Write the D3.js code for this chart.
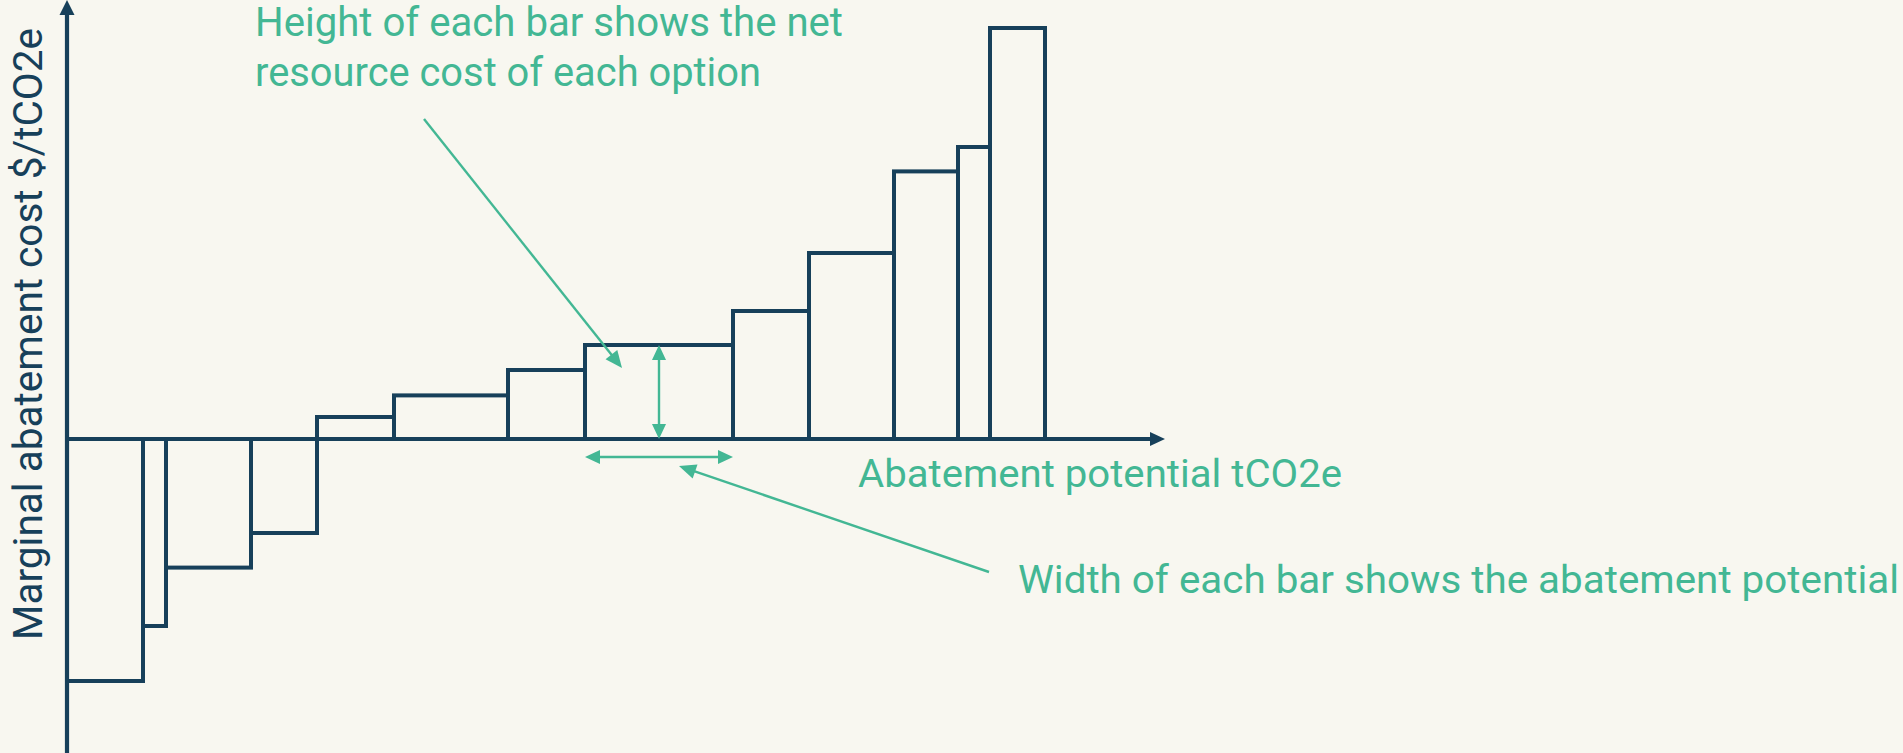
<!DOCTYPE html>
<html><head><meta charset="utf-8">
<script src="https://cdn.jsdelivr.net/npm/d3@7"></script>
<style>html,body{margin:0;padding:0;background:#f8f7f0;} svg{display:block}</style>
</head><body><svg id="chart" width="1903" height="753"></svg>
<script>
// ---- data ----
const options   = ["Option 1","Option 2","Option 3","Option 4","Option 5","Option 6","Option 7","Option 8","Option 9","Option 10","Option 11","Option 12","Option 13"];
const potential = [7.6, 2.3, 8.5, 6.6, 7.7, 11.4, 7.7, 14.8, 7.6, 8.5, 6.4, 3.2, 5.5];   // bar widths (tCO2e)
const cost      = [-121, -93.5, -64.3, -47, 11, 21.8, 34.5, 47, 64, 93, 133.8, 146, 205.5]; // bar heights ($/tCO2e)
const xLabel = "Abatement potential tCO2e";
const yLabel = "Marginal abatement cost $/tCO2e";
const noteHeight = ["Height of each bar shows the net", "resource cost of each option"];
const noteWidth  = "Width of each bar shows the abatement potential";
const highlighted = 7; // bar used for the explanatory arrows

// ---- layout ----
const W = 1903, H = 753;
const navy = "#17405a", green = "#43b794";
const svg = d3.select("#chart");
svg.append("rect").attr("width", W).attr("height", H).attr("fill", "#f8f7f0");

const starts = d3.cumsum([0, ...potential]).slice(0, potential.length);
const x = d3.scaleLinear().domain([0, 109.8]).range([67, 1165]);
const y = d3.scaleLinear().domain([-157, 219.5]).range([H, 0]);

const data = options.map((o, i) => ({name: o, x0: starts[i], x1: starts[i] + potential[i], c: cost[i]}));

function tri(g, tx, ty, fx, fy, len, hw, color) {
  const dx = tx - fx, dy = ty - fy, L = Math.hypot(dx, dy);
  const ux = dx / L, uy = dy / L, px = -uy, py = ux;
  const bx = tx - ux * len, by = ty - uy * len;
  g.append("path")
    .attr("d", `M${tx},${ty}L${bx + px * hw},${by + py * hw}L${bx - px * hw},${by - py * hw}Z`)
    .attr("fill", color);
}

// bars
svg.append("g").selectAll("rect").data(data).join("rect")
  .attr("x", d => x(d.x0))
  .attr("width", d => x(d.x1) - x(d.x0))
  .attr("y", d => y(Math.max(0, d.c)))
  .attr("height", d => Math.abs(y(d.c) - y(0)))
  .attr("fill", "none")
  .attr("stroke", navy)
  .attr("stroke-width", 4);

// axes
const ax = svg.append("g");
ax.append("line").attr("x1", x(0)).attr("x2", x.range()[1] - 10).attr("y1", y(0)).attr("y2", y(0))
  .attr("stroke", navy).attr("stroke-width", 4.2);
tri(ax, x.range()[1], y(0), x(0), y(0), 15, 7, navy);
ax.append("line").attr("x1", x(0)).attr("x2", x(0)).attr("y1", H).attr("y2", 10)
  .attr("stroke", navy).attr("stroke-width", 4.2);
tri(ax, x(0), 0, x(0), H, 15, 7.5, navy);

// axis labels
const font = "'Liberation Sans Narrow', Roboto, 'Liberation Sans', sans-serif";
svg.append("text").attr("transform", `translate(42,640) rotate(-90)`)
  .attr("font-family", font).attr("font-size", 40).attr("fill", navy)
  .attr("textLength", 612).attr("lengthAdjust", "spacingAndGlyphs").text(yLabel);
svg.append("text").attr("x", 858).attr("y", 487)
  .attr("font-family", font).attr("font-size", 39).attr("fill", green)
  .attr("textLength", 484).attr("lengthAdjust", "spacingAndGlyphs").text(xLabel);

// annotation texts
svg.append("text").attr("x", 255).attr("y", 36)
  .attr("font-family", font).attr("font-size", 40).attr("fill", green)
  .attr("textLength", 588).attr("lengthAdjust", "spacingAndGlyphs").text(noteHeight[0]);
svg.append("text").attr("x", 255).attr("y", 86)
  .attr("font-family", font).attr("font-size", 40).attr("fill", green)
  .attr("textLength", 506).attr("lengthAdjust", "spacingAndGlyphs").text(noteHeight[1]);
svg.append("text").attr("x", 1018).attr("y", 593)
  .attr("font-family", font).attr("font-size", 39).attr("fill", green)
  .attr("textLength", 881).attr("lengthAdjust", "spacingAndGlyphs").text(noteWidth);

// explanatory arrows
const hb = data[highlighted];
const an = svg.append("g");
const bx0 = x(hb.x0), bx1 = x(hb.x1), bxm = (bx0 + bx1) / 2, btop = y(hb.c), bz = y(0);
// vertical double arrow (height)
an.append("line").attr("x1", bxm).attr("x2", bxm).attr("y1", btop + 12).attr("y2", bz - 12)
  .attr("stroke", green).attr("stroke-width", 2.4);
tri(an, bxm, btop, bxm, bz, 15, 7, green);
tri(an, bxm, bz, bxm, btop, 15, 7, green);
// horizontal double arrow (width)
const hy = bz + 18;
an.append("line").attr("x1", bx0 + 12).attr("x2", bx1 - 12).attr("y1", hy).attr("y2", hy)
  .attr("stroke", green).attr("stroke-width", 2.4);
tri(an, bx0, hy, bx1, hy, 15, 7, green);
tri(an, bx1, hy, bx0, hy, 15, 7, green);
// pointer from height note
const p1 = {fx: 424, fy: 119, tx: bx0 + 37, ty: btop + 23};
{
  const L = Math.hypot(p1.tx - p1.fx, p1.ty - p1.fy);
  const ex = p1.tx - (p1.tx - p1.fx) / L * 12, ey = p1.ty - (p1.ty - p1.fy) / L * 12;
  an.append("line").attr("x1", p1.fx).attr("y1", p1.fy).attr("x2", ex).attr("y2", ey)
    .attr("stroke", green).attr("stroke-width", 2.4);
  tri(an, p1.tx, p1.ty, p1.fx, p1.fy, 17, 7.5, green);
}
// pointer from width note
const p2 = {fx: 989, fy: 572, tx: bxm + 20, ty: hy + 9};
{
  const L = Math.hypot(p2.tx - p2.fx, p2.ty - p2.fy);
  const ex = p2.tx - (p2.tx - p2.fx) / L * 12, ey = p2.ty - (p2.ty - p2.fy) / L * 12;
  an.append("line").attr("x1", p2.fx).attr("y1", p2.fy).attr("x2", ex).attr("y2", ey)
    .attr("stroke", green).attr("stroke-width", 2.4);
  tri(an, p2.tx, p2.ty, p2.fx, p2.fy, 17, 7.5, green);
}
</script>
</body></html>
